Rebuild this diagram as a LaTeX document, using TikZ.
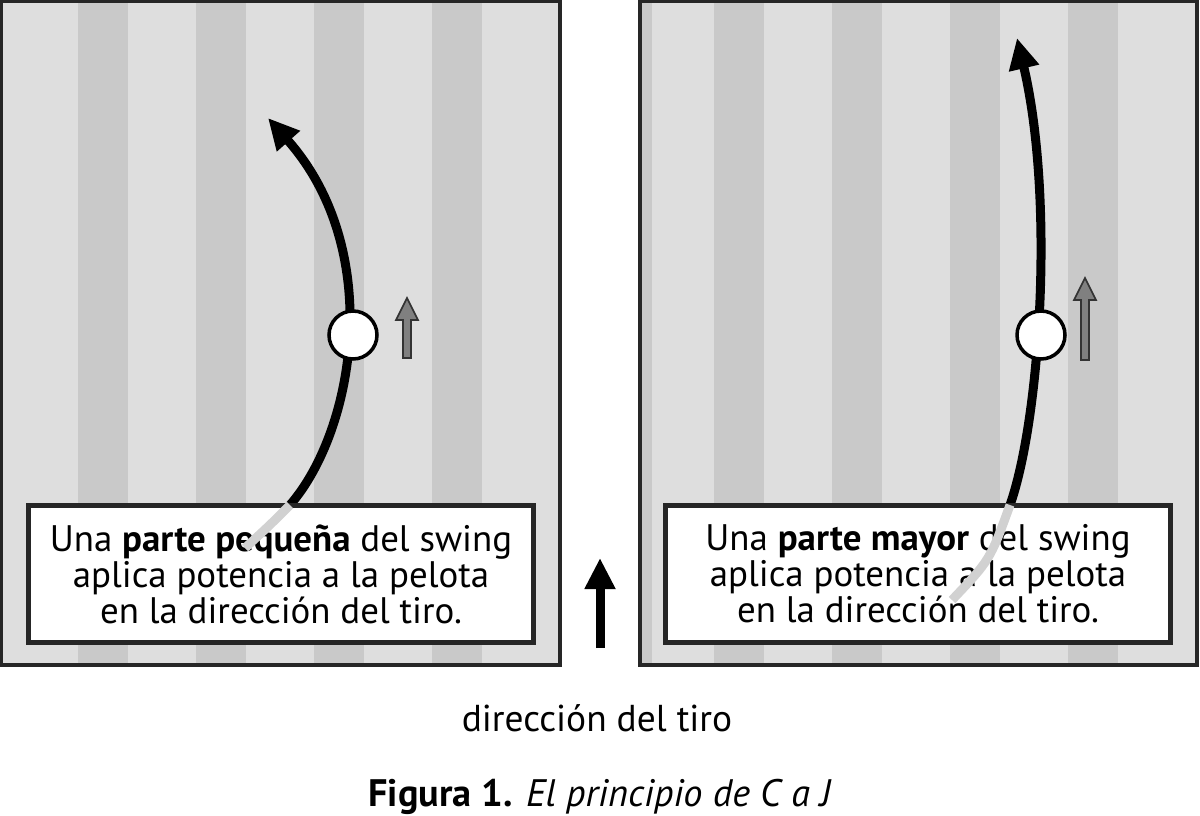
\documentclass[tikz,border=0pt]{standalone}
\usepackage{fontspec}
\setmainfont{PT Sans}
\usetikzlibrary{arrows.meta}
\definecolor{lightstripe}{gray}{0.87}
\definecolor{darkstripe}{gray}{0.79}
\definecolor{fadegray}{gray}{0.82}
\definecolor{arrowgray}{gray}{0.5}

\tikzset{
    panel/.style={draw=black!85, line width=2.5pt, fill=lightstripe},
    textbox/.style={draw=black!85, line width=2.5pt, fill=white, minimum width=10.1cm, minimum height=2.74cm, align=center, font=\fontsize{21}{20.5}\selectfont},
    ball/.style={circle, draw=black, line width=2pt, fill=white, minimum size=0.96cm, inner sep=0pt},
    swing/.style={line width=0.18cm},
    swingtip/.style={-{Triangle[length=0.62cm,width=0.58cm]}},
    smallarrow/.style={fill=arrowgray, draw=black!80, line width=1pt},
}

\begin{document}
\begin{tikzpicture}[x=0.02cm, y=-0.02cm]
    \useasboundingbox (0,0) rectangle (1200,815);
    \fill[white] (0,0) rectangle (1200,815);
    % panels
    \draw[panel] (1,1) rectangle (560,665);
    \draw[panel] (640,1) rectangle (1197,665);
    \foreach \x in {78,196,314,432} {
        \fill[darkstripe] (\x,3) rectangle (\x+50,663);
    }
    \foreach \x in {714,832,950,1068} {
        \fill[darkstripe] (\x,3) rectangle (\x+50,663);
    }
    \fill[darkstripe] (642,3) rectangle (652,663);
    \draw[draw=black!85, line width=2.5pt] (1,1) rectangle (560,665);
    \draw[draw=black!85, line width=2.5pt] (640,1) rectangle (1197,665);
    % left swing
    \coordinate (lstart) at (290,505);
    \draw[swing, swingtip] (lstart) .. controls (355,430) and (385,250) .. (268,118);
    \node[textbox] (lbox) at (281,574) {Una \textbf{parte pequeña} del swing\\aplica potencia a la pelota\\en la dirección del tiro.};
    \draw[swing, fadegray] (lstart) .. controls (270,525) .. (245,548);
    \node[ball] (lball) at (353,335) {};
    \draw[smallarrow] (403,358) -- (403,320) -- (396,320) -- (407,298) -- (418,320) -- (411,320) -- (411,358) -- cycle;
    % right swing
    \coordinate (rstart) at (1010,505);
    \draw[swing, swingtip] (rstart) .. controls (1040,420) and (1055,200) .. (1017,38);
    \node[textbox] (rbox) at (918,574) {Una \textbf{parte mayor} del swing\\aplica potencia a la pelota\\en la dirección del tiro.};
    \draw[swing, fadegray] (rstart) .. controls (990,560) .. (952,600);
    \node[ball] (rball) at (1041,335) {};
    \draw[smallarrow] (1081,360) -- (1081,300) -- (1074,300) -- (1085,278) -- (1096,300) -- (1089,300) -- (1089,360) -- cycle;
    % direction
    \coordinate (dirbase) at (600,648);
    \coordinate (dirtip) at (600,558);
    \draw[line width=0.18cm, -{Triangle[length=0.62cm,width=0.58cm]}] (dirbase) -- (dirtip);
    \node[font=\fontsize{21.3}{24}\selectfont] (dirlabel) at (597,718) {dirección del tiro};
    \node[font=\fontsize{21.8}{24}\selectfont] (caption) at (600,797) {\textbf{Figura 1.} \textit{El principio de C a J}};
\end{tikzpicture}
\end{document}
